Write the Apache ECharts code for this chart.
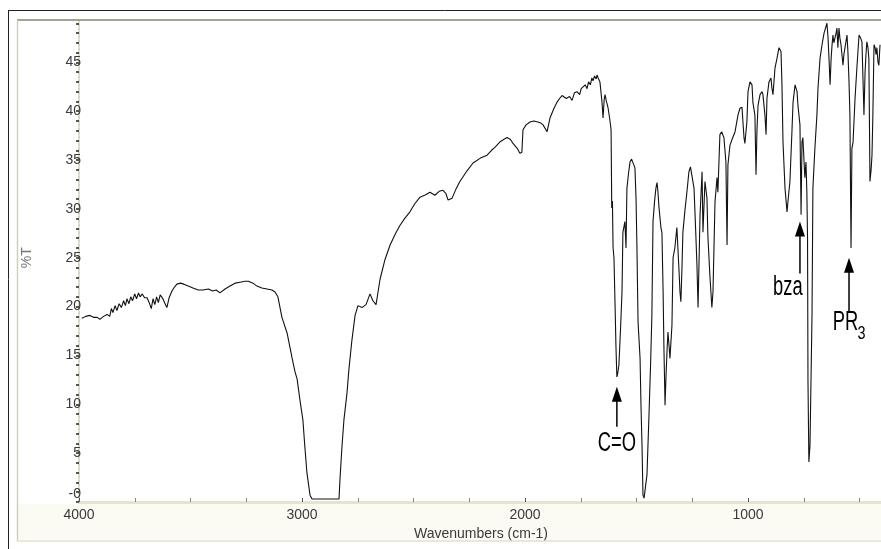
<!DOCTYPE html>
<html>
<head>
<meta charset="utf-8">
<title>IR spectrum</title>
<script src="https://cdn.jsdelivr.net/npm/echarts@6/dist/echarts.min.js"></script>
<style>
  html, body { margin: 0; padding: 0; background: #fff; }
  #chart { width: 881px; height: 549px; }
</style>
</head>
<body>
<div id="chart"></div>
<script>
// spectrum, [wavenumber cm-1, %T]
const highRegion = [
  [3987, 18.8], [3970, 19.0], [3951, 19.1], [3935, 18.9], [3919, 18.9], [3906, 18.7], [3890, 19.0],
  [3874, 19.2], [3862, 19.0], [3855, 19.8], [3848, 19.4], [3838, 20.1], [3830, 19.6], [3820, 20.3],
  [3810, 19.9], [3800, 20.6], [3792, 20.1], [3785, 20.8], [3776, 20.3], [3768, 21.0], [3760, 20.6],
  [3750, 21.3], [3742, 20.8], [3733, 21.4], [3726, 21.0], [3716, 21.3], [3706, 20.9], [3695, 20.9],
  [3685, 20.4], [3676, 19.8], [3668, 20.8], [3660, 20.2], [3652, 21.0], [3644, 20.4], [3636, 21.2],
  [3626, 20.9], [3616, 20.4], [3606, 19.9], [3596, 20.9], [3583, 21.6], [3572, 22.0], [3561, 22.3],
  [3545, 22.4], [3530, 22.3], [3510, 22.1], [3489, 21.9], [3465, 21.7], [3444, 21.7], [3420, 21.8],
  [3400, 21.6], [3385, 21.7], [3368, 21.4], [3345, 21.8], [3323, 22.1], [3300, 22.4], [3278, 22.5],
  [3255, 22.6], [3240, 22.6], [3220, 22.4], [3202, 22.1], [3180, 21.9], [3157, 21.8], [3135, 21.7],
  [3121, 21.5], [3108, 21.0]
]
const chRegion = [
  [3090, 18.9], [3067, 17.3], [3045, 14.8], [3031, 13.3], [3022, 12.6], [3009, 10.4], [2996, 8.4],
  [2987, 5.6], [2978, 3.0], [2964, 0.7], [2955, 0.3], [2834, 0.3], [2830, 2.2], [2821, 5.6],
  [2812, 8.4], [2798, 11.2], [2790, 13.5], [2776, 16.6], [2762, 19.1], [2749, 20.1], [2731, 19.9],
  [2713, 20.2], [2695, 21.3], [2682, 20.6], [2668, 20.2], [2650, 22.8]
]
const midRegion = [
  [2628, 24.8], [2605, 26.3], [2580, 27.5], [2561, 28.3], [2540, 29.0], [2516, 29.7], [2495, 30.5],
  [2471, 31.2], [2450, 31.4], [2426, 31.7], [2404, 31.4], [2385, 31.8], [2368, 31.9], [2355, 31.6],
  [2345, 30.9], [2327, 31.1], [2310, 32.0], [2292, 32.8], [2260, 33.9], [2233, 34.7], [2200, 35.2],
  [2170, 35.5], [2150, 36.0], [2135, 36.3], [2110, 36.9], [2081, 37.3], [2065, 37.1], [2054, 36.7],
  [2035, 36.2], [2023, 35.7], [2014, 35.8], [2009, 38.1], [1995, 38.6], [1978, 38.9], [1960, 39.0],
  [1942, 38.9], [1930, 38.8], [1919, 38.6], [1901, 37.9], [1888, 39.3], [1870, 40.3], [1857, 40.9],
  [1845, 41.3], [1834, 41.6], [1815, 41.3], [1800, 41.5], [1789, 41.1], [1778, 41.9], [1767, 42.0],
  [1755, 41.7], [1748, 42.3], [1740, 42.2], [1730, 42.7], [1722, 42.3], [1715, 43.0], [1707, 42.7],
  [1700, 43.4], [1695, 43.1], [1688, 43.6], [1681, 43.3], [1677, 43.7], [1672, 43.4], [1664, 43.0]
]
const fingerprint = [
  [1655, 41.0], [1650, 39.3], [1645, 41.2], [1641, 41.7], [1635, 41.0], [1628, 40.4], [1620, 39.2],
  [1614, 38.1], [1611, 30.1], [1608, 30.8], [1605, 26.0], [1601, 25.0], [1596, 20.0], [1592, 15.8],
  [1588, 12.8], [1584, 13.2], [1579, 14.0], [1572, 17.5], [1565, 21.5], [1561, 27.6], [1556, 27.8],
  [1552, 28.7], [1547, 26.0], [1543, 32.1], [1536, 33.6], [1529, 34.8], [1522, 35.1], [1516, 35.3],
  [1507, 34.2], [1502, 31.0], [1498, 26.0], [1493, 18.4], [1484, 14.7], [1480, 10.0], [1475, 5.5],
  [1471, 0.7], [1466, 0.4], [1462, 0.5], [1453, 2.8], [1444, 8.9], [1437, 14.0], [1431, 19.1],
  [1426, 28.7], [1419, 30.8], [1413, 32.1], [1408, 32.7], [1404, 31.8], [1399, 30.1], [1390, 28.0],
  [1386, 27.6], [1381, 21.9], [1377, 15.8], [1372, 9.9], [1368, 12.7], [1363, 15.5], [1359, 17.4],
  [1354, 16.0], [1350, 14.7], [1341, 18.1], [1336, 25.0], [1328, 26.0], [1319, 28.1], [1314, 28.0],
  [1310, 24.0], [1305, 21.5], [1301, 20.5], [1296, 24.0], [1292, 27.6], [1283, 29.8], [1274, 31.7],
  [1265, 33.8], [1258, 34.3], [1251, 34.2], [1242, 32.1], [1235, 28.0], [1229, 24.3], [1224, 19.9],
  [1215, 29.4], [1206, 33.8], [1202, 27.6], [1193, 32.8], [1184, 31.1], [1180, 27.3], [1171, 23.2],
  [1162, 19.9], [1157, 21.5], [1148, 30.7], [1139, 33.2], [1135, 31.7], [1126, 37.6], [1118, 37.9],
  [1112, 37.9], [1108, 37.3], [1099, 34.8], [1094, 26.3], [1090, 34.5], [1081, 36.5], [1070, 37.2],
  [1058, 37.9], [1045, 39.6], [1036, 40.3]
]
const lowRegion = [
  [1027, 40.4], [1018, 37.3], [1014, 36.7], [1005, 38.9], [1000, 42.0], [991, 43.0], [982, 42.7],
  [978, 40.9], [969, 39.6], [964, 33.5], [960, 37.9], [955, 40.6], [946, 41.7], [937, 42.0],
  [933, 41.7], [924, 39.6], [919, 37.6], [915, 41.3], [906, 43.0], [897, 43.4], [893, 42.4],
  [888, 41.7], [879, 44.4], [870, 45.4], [861, 46.5], [852, 46.1], [848, 43.0], [843, 36.8],
  [834, 32.1], [825, 29.7], [821, 30.7], [812, 32.8], [803, 37.9], [798, 40.9], [789, 42.7],
  [780, 42.0], [776, 40.6], [767, 38.6], [762, 29.4], [758, 36.8], [754, 37.3], [745, 33.2],
  [740, 34.8], [736, 31.7], [733, 27.0], [731, 12.3], [727, 4.1], [722, 5.8], [713, 19.1],
  [709, 32.1], [700, 36.2], [691, 39.6], [686, 42.4], [677, 45.4], [668, 46.8], [659, 48.0],
  [646, 49.0], [641, 47.5], [636, 45.0], [632, 42.7], [627, 45.5], [623, 46.8], [619, 47.8],
  [615, 47.0], [610, 47.1], [605, 48.0], [601, 48.5], [597, 46.5], [592, 48.5], [588, 47.5],
  [583, 46.8], [574, 44.7], [570, 45.8], [565, 46.5], [556, 47.8], [552, 46.1], [547, 43.0],
  [543, 39.6], [538, 26.0], [534, 36.2], [529, 36.8], [520, 41.3], [511, 44.7], [502, 47.8],
  [495, 47.5], [489, 47.1], [484, 43.0], [480, 39.6], [475, 44.0], [471, 45.8], [467, 47.1],
  [462, 46.5], [458, 45.4], [453, 32.8], [448, 34.0], [444, 35.5], [440, 39.6], [435, 46.8],
  [430, 46.5], [426, 45.8], [422, 46.5], [417, 45.0], [413, 44.7], [408, 46.8]
]

const xTickLabels = [4000, 3000, 2000, 1000]
const yTickLabels = ['-0', '5', '10', '15', '20', '25', '30', '35', '40', '45']

// arrows + labels, in data units
const notes = [
  { text: 'C=O', wn: 1588, tip: 11.8, tail: 7.7, labelWn: 1588, labelT: 6.0 },
  { text: 'bza', wn: 767, tip: 28.7, tail: 23.4, labelWn: 821, labelT: 21.9 },
  { text: 'PR', sub: '3', wn: 547, tip: 25.0, tail: 19.4, labelWn: 563, labelT: 18.4, subWn: 491, subT: 17.2 }
]

const spectrum = [].concat(highRegion, chRegion, midRegion, fingerprint, lowRegion)
const font = '"Liberation Sans", Arial, sans-serif'

const chart = echarts.init(document.getElementById('chart'))

chart.setOption({
  animation: false,
  backgroundColor: '#fff',
  // right edge runs past the window: the picture is cut at about 410 cm-1
  grid: { left: 79, right: -90, top: 13.5, bottom: 47, outerBoundsMode: 'none', containLabel: false },
  xAxis: {
    type: 'value',
    inverse: true,
    min: 0,
    max: 4000,
    interval: 1000,
    splitLine: { show: false },
    axisLine: { onZero: false, lineStyle: { color: '#e6e4cf', width: 3 } },
    axisTick: { inside: true, length: 4, lineStyle: { color: '#555' } },
    minorTick: { show: true, splitNumber: 4, length: 4, lineStyle: { color: '#888' } },
    axisLabel: {
      margin: 6,
      fontSize: 14,
      fontFamily: font,
      color: '#3a3a3a',
      formatter: v => (xTickLabels.indexOf(v) >= 0 ? String(v) : '')
    },
    name: 'Wavenumbers (cm-1)',
    nameLocation: 'middle',
    nameGap: 23,
    nameTextStyle: { fontSize: 14, fontFamily: font, color: '#3a3a3a', padding: [0, 88, 0, 0] }
  },
  yAxis: {
    type: 'value',
    min: 0,
    max: 50,
    interval: 5,
    splitLine: { show: false },
    axisLine: { show: true, onZero: false, lineStyle: { color: '#d8d6bf', width: 2, type: 'dotted' } },
    axisTick: { show: true, length: 3, lineStyle: { color: '#222', width: 1.5 } },
    minorTick: { show: true, splitNumber: 5, length: 3, lineStyle: { color: '#222', width: 1.5 } },
    axisLabel: {
      margin: -2,
      fontSize: 14,
      fontFamily: font,
      color: '#3a3a3a',
      formatter: v => {
        const i = Math.round(v / 5)
        if (i === 0) return '{z|-0}'
        return i < yTickLabels.length && Math.abs(v - i * 5) < 1e-6 ? yTickLabels[i] : ''
      },
      rich: { z: { fontSize: 14, fontFamily: font, color: '#3a3a3a', padding: [0, 0, 16, 0] } }
    },
    name: '%T',
    nameLocation: 'middle',
    nameGap: 45,
    nameTextStyle: { fontSize: 14, fontFamily: font, color: '#777' }
  },
  series: [{
    type: 'line',
    data: spectrum,
    showSymbol: false,
    symbol: 'none',
    sampling: null,
    lineStyle: { color: '#111', width: 1.1 },
    z: 3
  }]
})

// frame of the old spectrometer window
const frame = [
  { type: 'rect', z: 100, shape: { x: 9, y: 11, width: 872, height: 8 }, style: { fill: '#fff' } },
  { type: 'rect', z: -1, shape: { x: 18, y: 504, width: 863, height: 36 }, style: { fill: '#fbfbf3' } },
  { type: 'line', z: 100, shape: { x1: 8, y1: 10.5, x2: 881, y2: 10.5 }, style: { stroke: '#222', lineWidth: 1 } },
  { type: 'line', z: 100, shape: { x1: 8.5, y1: 10, x2: 8.5, y2: 549 }, style: { stroke: '#222', lineWidth: 1 } },
  { type: 'line', z: 100, shape: { x1: 17, y1: 20, x2: 881, y2: 20 }, style: { stroke: '#a3a391', lineWidth: 2 } },
  { type: 'line', z: 100, shape: { x1: 17.5, y1: 20, x2: 17.5, y2: 541 }, style: { stroke: '#cfcfbe', lineWidth: 1.5 } },
  { type: 'line', z: 100, shape: { x1: 17, y1: 541, x2: 881, y2: 541 }, style: { stroke: '#e2e1cf', lineWidth: 1.5 } }
]

const marks = []
notes.forEach(n => {
  const tip = chart.convertToPixel({ gridIndex: 0 }, [n.wn, n.tip])
  const tail = chart.convertToPixel({ gridIndex: 0 }, [n.wn, n.tail])
  const head = 15
  const half = 5
  marks.push({
    type: 'line', z: 50,
    shape: { x1: tail[0], y1: tail[1], x2: tip[0], y2: tip[1] + head - 1 },
    style: { stroke: '#000', lineWidth: 1.5 }
  })
  marks.push({
    type: 'polygon', z: 50,
    shape: { points: [[tip[0], tip[1]], [tip[0] - half, tip[1] + head], [tip[0] + half, tip[1] + head]] },
    style: { fill: '#000' }
  })
  const lp = chart.convertToPixel({ gridIndex: 0 }, [n.labelWn, n.labelT])
  marks.push({
    type: 'text', z: 50, x: lp[0], y: lp[1], scaleX: 0.68,
    style: { text: n.text, x: 0, y: 0, fontSize: 27, fontFamily: font, fill: '#000', align: 'center', verticalAlign: 'middle' }
  })
  if (n.sub) {
    const sp = chart.convertToPixel({ gridIndex: 0 }, [n.subWn, n.subT])
    marks.push({
      type: 'text', z: 50, x: sp[0], y: sp[1], scaleX: 0.8,
      style: { text: n.sub, x: 0, y: 0, fontSize: 18, fontFamily: font, fill: '#000', align: 'center', verticalAlign: 'middle' }
    })
  }
})

chart.setOption({ graphic: frame.concat(marks) })
</script>
</body>
</html>
